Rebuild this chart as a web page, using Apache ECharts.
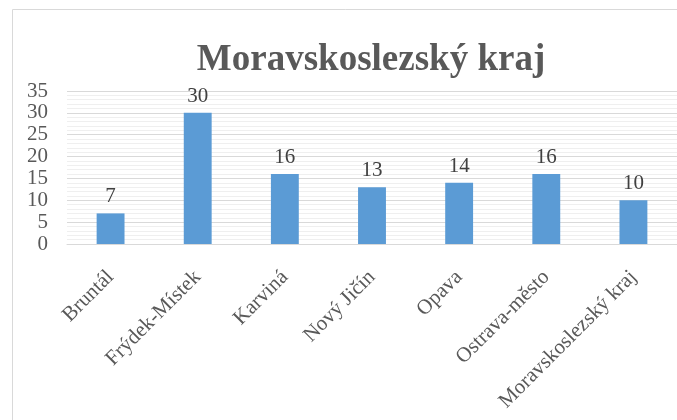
<!DOCTYPE html>
<html><head><meta charset="utf-8">
<script src="https://cdn.jsdelivr.net/npm/echarts@6/dist/echarts.min.js"></script>
<style>html,body{margin:0;padding:0;background:#fff}#c{width:677px;height:420px}</style>
</head><body><div id="c"></div>
<script>
const categories = ["Bruntál","Frýdek-Místek","Karviná","Nový Jičín","Opava","Ostrava-město","Moravskoslezský kraj"];
const values = [7,30,16,13,14,16,10];
const titleText = "Moravskoslezský kraj";
const yMin = 0, yMax = 35, yInterval = 5;

const chart = echarts.init(document.getElementById('c'));
const font = '"Liberation Serif","Times New Roman",serif';
chart.setOption({
  animation:false,
  graphic:[{type:'rect',shape:{x:12.5,y:9.5,width:700,height:450},style:{fill:'none',stroke:'#d9d9d9',lineWidth:1}}],
  title:{text:titleText,left:366,top:37,textAlign:'center',textStyle:{fontFamily:font,fontWeight:'bold',fontSize:37,color:'#595959'}},
  grid:{left:67,right:-3,top:91,bottom:176},
  xAxis:{type:'category',data:categories,
    axisLine:{lineStyle:{color:'#d9d9d9',width:1}},axisTick:{show:false},
    axisLabel:{rotate:45,margin:30,interval:0,fontFamily:font,fontSize:21,color:'#595959'}},
  yAxis:{type:'value',min:yMin,max:yMax,interval:yInterval,
    axisLine:{show:false},axisTick:{show:false},
    axisLabel:{margin:19,fontFamily:font,fontSize:21,color:'#595959'},
    splitLine:{lineStyle:{color:'#d9d9d9',width:1}},
    minorTick:{show:false,splitNumber:5},
    minorSplitLine:{show:true,lineStyle:{color:'#efefef',width:1}}},
  series:[{type:'bar',data:values,barWidth:'32%',itemStyle:{color:'#5b9bd5'},
    label:{show:true,position:'top',distance:6,fontFamily:font,fontSize:21,color:'#404040'}}]
});
</script></body></html>
